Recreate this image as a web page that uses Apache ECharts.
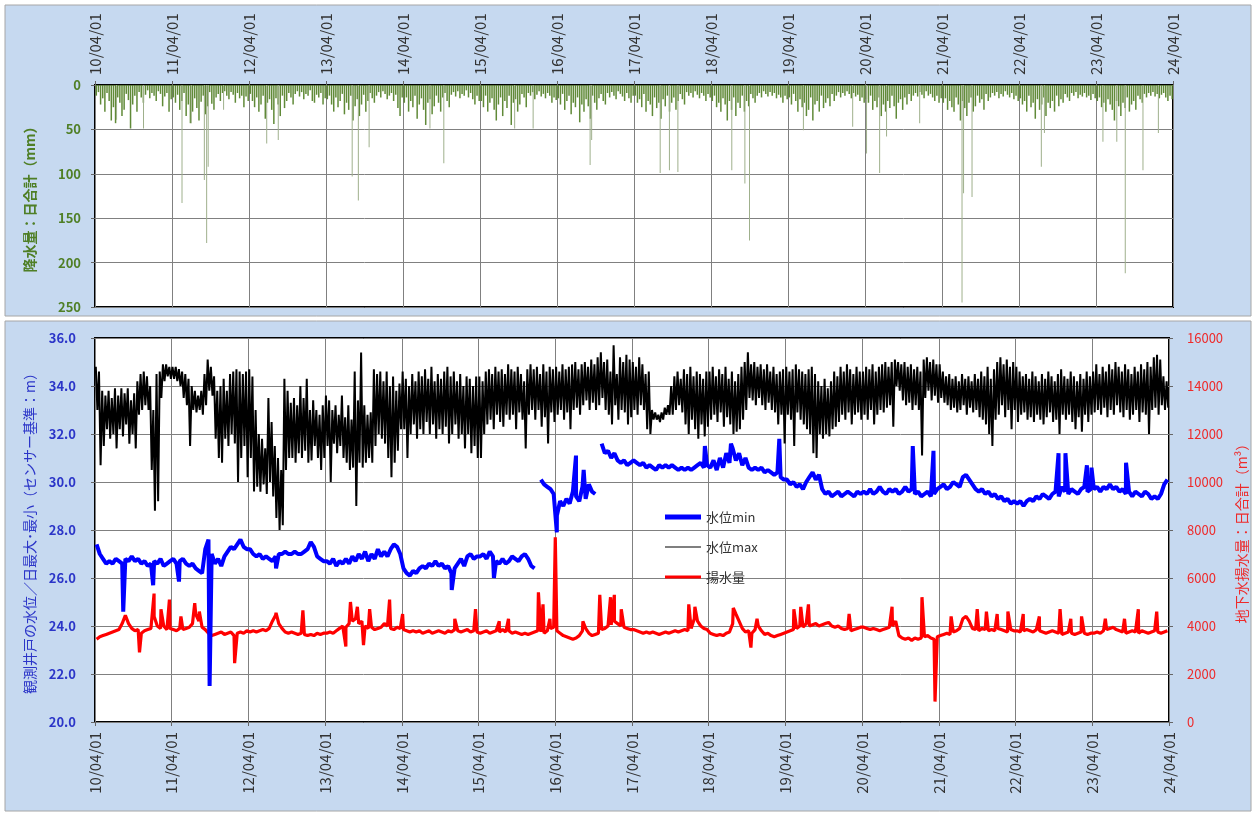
<!DOCTYPE html>
<html>
<head>
<meta charset="utf-8">
<script src="https://cdn.jsdelivr.net/npm/echarts@6/dist/echarts.min.js"></script>
<style>
  html, body { margin: 0; background: #fff; }
  #main { width: 1257px; height: 816px; }
</style>
</head>
<body>
<div id="main"></div>
<script>
// x = years since 2010-04-01 (0..14), one tick per year
const tickLabels = ['10/04/01','11/04/01','12/04/01','13/04/01','14/04/01','15/04/01','16/04/01',
  '17/04/01','18/04/01','19/04/01','20/04/01','21/04/01','22/04/01','23/04/01','24/04/01'];

// rainfall, max daily total per ~10 day bin (36 bins / year), mm
const rainfall = [
  12,8,22,15,30,9,18,40,25,43,14,20, 35,28,10,17,49,22,12,30,8,14,20,11, 6,15,9,12,18,7,10,24,13,9,30,16,
  14,20,11,28,18,9,35,22,43,30,15,26, 40,19,12,33,24,8,21,28,14,10,18,9, 7,12,16,8,11,20,9,15,12,25,13,18,
  10,18,25,14,30,22,12,38,20,16,28,44, 15,22,35,12,26,18,9,14,22,10,7,13, 8,16,10,12,6,18,20,11,14,9,22,15,
  16,12,22,30,14,25,18,10,33,20,28,12, 40,24,16,35,22,11,30,18,9,15,20,12, 8,14,7,10,16,12,9,18,11,26,35,14,
  20,14,30,18,25,12,38,22,15,28,45,20, 16,33,24,12,20,30,14,9,18,25,11,8, 13,7,15,10,12,6,14,9,16,22,12,18,
  18,25,12,30,20,15,28,40,22,14,35,18, 26,12,45,20,16,30,22,10,14,25,9,12, 8,16,11,7,13,10,15,9,12,20,14,17,
  15,22,10,28,18,12,33,20,25,14,42,22, 30,16,24,38,12,20,28,15,10,18,22,9, 14,8,12,16,7,10,13,18,9,15,20,12,
  12,20,16,25,10,30,18,22,35,14,26,20, 38,16,24,12,30,20,14,28,18,10,16,22, 8,12,9,14,7,11,15,9,12,18,10,14,
  18,12,25,20,30,15,22,40,18,28,14,35, 20,26,12,30,18,24,10,15,20,12,9,14, 7,10,13,8,12,9,15,11,14,20,12,16,
  14,22,10,18,30,16,25,20,35,28,14,40, 22,18,30,12,26,20,15,24,10,18,12,8, 14,9,12,7,10,15,9,13,11,18,14,20,
  16,20,12,28,18,25,14,35,22,30,18,26, 12,24,38,20,16,28,14,22,10,18,12,9, 13,8,11,15,7,12,10,14,18,12,20,15,
  20,15,28,18,25,30,14,22,40,18,26,35, 20,14,30,24,12,20,16,28,10,18,14,9, 12,8,15,10,13,7,11,14,9,16,12,18,
  15,22,18,30,12,25,20,38,16,28,22,14, 35,20,26,18,30,12,24,16,20,10,14,18, 9,12,8,15,11,13,9,14,12,17,10,15,
  18,14,25,20,30,16,22,28,40,18,24,35, 20,26,14,30,22,18,28,12,16,20,10,14, 9,12,8,13,10,15,11,9,14,18,12,16
];
// single heavy rain days [year offset, mm]
const rainPeaks = [
  [0.28,39],[0.63,49],[1.13,133],[1.25,43],[1.42,107],[1.45,178],[1.47,92],[1.67,28],[2.23,66],[2.38,62],
  [3.34,103],[3.42,130],[3.56,70],[4.35,49],[4.53,88],[5.45,49],[5.69,49],[6.43,90],[6.45,62],[7.34,99],
  [7.46,96],[7.57,98],[8.27,96],[8.44,111],[8.50,175],[9.2,51],[9.84,47],[10.02,77],[10.19,99],[10.28,58],
  [10.71,43],[11.26,245],[11.28,122],[11.39,126],[12.29,92],[12.33,54],[13.09,64],[13.27,64],[13.38,212],
  [13.61,96],[13.81,54]
];

// daily max water level: upper / lower edge per half-month bin (24 bins / year), m
const wlMaxHi = [
  34.8,34.6,33.8,33.6,33.8,33.5,33.9,33.6,33.9,33.7,33.9,33.4, 33.7,34.2,34.5,34.6,34.4,34.0,33.0,34.5,34.6,34.9,34.9,34.8,
  34.8,34.8,34.7,34.6,34.5,34.3,34.0,33.8,33.6,33.8,34.5,35.1, 34.8,34.4,33.8,34.0,34.3,33.8,34.5,34.6,34.7,34.6,34.5,34.6,
  34.7,34.4,33.0,32.0,31.8,31.4,33.5,32.5,31.5,31.0,30.5,34.3, 33.8,33.3,33.5,33.2,34.0,33.5,34.3,33.0,33.4,33.0,32.8,33.2,
  33.6,33.4,33.0,33.2,32.8,33.6,32.7,33.2,32.6,34.6,33.4,35.4, 33.2,32.8,32.9,34.7,34.5,34.6,34.2,34.6,34.0,34.4,33.8,34.1,
  34.6,34.3,34.0,34.5,34.2,34.6,34.4,34.7,34.3,34.8,34.2,34.5, 34.3,34.6,34.8,34.4,34.6,34.2,34.5,34.0,34.4,34.3,34.0,34.4,
  34.4,34.2,34.6,34.7,34.5,34.8,34.6,34.7,34.5,34.9,34.7,34.6, 34.8,34.5,34.2,34.7,34.9,34.7,34.8,34.5,34.9,34.6,34.8,34.7,
  34.8,34.6,34.9,34.7,34.8,34.9,35.0,34.7,34.9,35.0,34.8,35.1, 34.9,35.2,35.4,35.0,35.1,34.6,35.7,34.5,35.2,35.0,35.3,35.1,
  35.0,34.8,35.2,34.9,34.5,34.6,33.0,32.9,32.8,32.9,33.1,33.2, 34.0,34.4,34.6,34.3,34.7,34.5,34.8,34.4,34.6,34.5,34.3,34.6,
  34.6,34.8,34.4,34.7,34.5,34.8,34.3,34.6,34.2,34.5,34.8,35.0, 35.4,34.9,35.0,34.8,34.9,34.7,34.9,34.6,34.8,34.5,34.6,34.7,
  34.8,34.6,34.7,34.9,34.7,34.6,34.5,34.7,34.8,34.5,34.2,34.0, 34.3,33.9,34.2,34.6,34.4,34.8,34.6,34.9,34.7,34.5,34.8,34.6,
  34.6,34.8,34.7,34.9,34.6,34.8,34.9,35.0,34.8,35.0,35.1,35.0, 34.9,35.0,34.8,34.9,34.7,34.8,34.6,35.1,35.2,35.0,35.1,34.9,
  34.9,34.6,34.4,34.5,34.3,34.4,34.2,34.5,34.3,34.4,34.2,34.5, 34.3,34.6,34.4,34.8,34.3,34.7,35.0,35.2,34.9,35.1,34.8,35.0,
  34.8,34.6,34.4,34.5,34.3,34.6,34.4,34.2,34.5,34.3,34.6,34.4, 34.2,34.5,34.7,34.4,34.3,34.6,34.4,34.2,34.5,34.3,34.6,34.4,
  34.6,34.9,34.5,34.8,34.6,34.9,34.7,35.0,34.8,34.6,34.9,34.7, 34.5,34.8,34.6,34.9,34.7,35.0,34.8,35.2,35.3,35.1,34.4,34.2
];
const wlMaxLo = [
  33.0,30.7,31.5,32.2,31.8,32.0,31.4,32.2,31.9,32.4,31.6,32.0, 31.4,32.8,33.0,33.2,33.0,30.5,28.8,29.2,33.5,34.2,34.4,34.3,
  34.3,34.2,34.0,33.5,33.2,31.5,33.0,32.9,33.0,32.8,33.2,33.8, 33.6,31.8,31.0,30.8,31.8,31.5,32.0,31.6,30.0,31.0,31.5,30.2,
  31.0,29.6,29.8,29.6,29.9,29.5,30.0,29.4,28.5,28.0,28.2,30.5, 31.0,31.0,30.8,31.2,31.0,31.3,30.8,30.9,31.5,31.0,30.5,31.0,
  31.5,30.0,31.6,31.2,31.5,31.0,30.8,30.5,30.6,29.0,30.8,30.6, 30.8,31.0,30.8,31.5,32.0,31.8,31.6,31.0,30.2,30.8,31.3,32.2,
  32.2,31.0,32.0,32.4,31.8,32.2,32.0,32.5,32.0,32.4,31.8,32.2, 32.0,32.3,31.6,32.0,32.4,31.8,32.0,31.4,32.0,31.2,31.5,31.0,
  31.0,32.0,32.4,32.6,32.2,32.8,32.5,32.3,32.8,32.6,32.8,32.2, 32.9,32.6,31.4,32.8,33.0,32.6,33.0,32.3,32.7,31.6,32.9,32.5,
  32.8,33.0,32.6,32.9,32.2,33.0,33.1,32.8,33.2,33.4,33.0,33.3, 33.0,33.2,33.5,33.0,32.8,32.4,33.2,32.6,33.0,32.9,32.4,32.7,
  33.0,32.8,33.2,33.0,32.2,32.0,32.6,32.6,32.5,32.6,32.8,32.8, 32.8,33.0,33.2,32.9,32.4,32.0,32.6,32.2,31.8,32.4,31.9,32.3,
  32.6,32.8,32.5,32.9,32.3,32.7,32.4,32.0,32.1,32.2,32.6,33.0, 33.5,33.4,33.2,33.5,33.2,33.0,33.3,33.0,32.9,32.4,32.8,31.6,
  32.8,32.6,31.5,32.9,32.6,32.4,32.2,32.0,31.2,31.0,32.0,31.8, 32.0,31.9,32.2,32.3,32.5,32.8,32.6,32.9,32.4,32.8,32.9,32.6,
  32.8,32.6,33.0,32.4,32.8,33.0,32.9,33.1,33.2,32.3,34.0,33.8, 33.4,33.2,33.3,33.0,33.2,33.0,31.1,33.5,33.8,33.4,33.6,33.3,
  33.5,33.3,33.2,33.0,33.1,32.9,33.0,33.2,32.8,33.1,32.9,33.0, 32.7,32.6,32.4,32.0,31.5,32.6,32.8,33.2,32.7,33.0,32.2,33.0,
  32.5,32.8,32.9,32.6,32.7,32.5,32.8,32.6,32.4,32.7,32.9,32.5, 32.6,32.0,32.8,32.6,32.8,32.5,32.2,32.7,32.1,32.8,32.5,32.8,
  32.9,33.0,32.8,33.1,32.7,33.0,32.8,33.2,32.9,32.7,33.0,32.6, 32.8,33.0,32.5,32.9,32.8,32.0,33.0,33.1,32.8,33.2,33.0,33.1
];

// daily min water level per half-month bin, m (null = no record)
const wlMin = [
  27.4,27.0,26.8,26.6,26.7,26.6,26.8,26.7,26.6,26.8,26.7,26.9, 26.7,26.8,26.6,26.7,26.5,26.6,26.7,26.6,26.8,26.5,26.6,26.7,
  26.8,26.6,26.7,26.8,26.6,26.5,26.6,26.4,26.3,26.2,27.2,27.6, 27.0,26.6,26.8,26.5,26.9,27.1,27.3,27.2,27.4,27.6,27.3,27.2,
  27.2,27.0,26.9,27.0,26.8,26.9,26.8,26.7,26.9,27.0,27.0,27.1, 27.0,27.0,27.1,27.0,27.0,27.1,27.2,27.5,27.3,26.9,26.8,26.7,
  26.7,26.6,26.8,26.5,26.7,26.6,26.8,26.6,26.9,26.7,27.0,26.8, 27.1,26.7,27.0,26.8,27.2,26.9,27.1,26.9,27.2,27.4,27.3,27.0,
  26.4,26.2,26.1,26.3,26.2,26.4,26.5,26.4,26.6,26.5,26.7,26.5, 26.6,26.4,26.5,26.2,26.4,26.6,26.8,26.5,26.9,27.0,26.8,26.9,
  26.9,27.0,26.8,27.1,26.9,26.7,26.6,26.8,26.6,26.7,26.9,26.8, 26.7,26.9,27.0,26.8,26.5,26.4,null,30.1,29.9,29.8,29.7,29.5,
  28.6,29.2,29.0,29.3,29.1,29.6,29.4,29.2,29.8,29.3,29.9,29.6, 29.5,null,31.6,31.2,31.3,31.0,31.2,30.9,30.8,30.9,30.7,30.8,
  30.9,30.8,30.7,30.8,30.6,30.7,30.6,30.5,30.7,30.6,30.7,30.6, 30.7,30.6,30.5,30.6,30.5,30.6,30.5,30.6,30.7,30.8,30.6,30.7,
  30.6,30.9,30.5,31.0,30.6,31.2,30.8,31.4,30.9,31.2,30.7,31.0, 30.6,30.5,30.6,30.5,30.6,30.4,30.5,30.4,30.3,30.4,30.2,30.1,
  30.1,29.9,30.0,29.8,29.9,29.7,30.0,30.2,30.4,30.1,30.3,29.7, 29.5,29.6,29.4,29.5,29.6,29.4,29.5,29.6,29.5,29.4,29.6,29.5,
  29.6,29.5,29.7,29.5,29.6,29.8,29.6,29.5,29.7,29.6,29.7,29.5, 29.6,29.8,29.6,29.7,29.5,29.6,29.4,29.5,29.6,29.4,29.5,29.7,
  29.8,29.9,29.7,29.8,30.0,29.9,29.8,30.2,30.3,30.1,29.9,29.7, 29.6,29.7,29.5,29.6,29.4,29.5,29.3,29.4,29.2,29.3,29.1,29.2,
  29.1,29.2,29.0,29.2,29.3,29.2,29.4,29.3,29.5,29.4,29.3,29.5, 29.6,29.4,29.8,29.6,29.5,29.7,29.6,29.5,29.7,29.8,29.6,29.7,
  29.7,29.8,29.6,29.8,29.7,29.9,29.7,29.8,29.6,29.7,29.5,29.6, 29.4,29.6,29.5,29.4,29.6,29.5,29.3,29.4,29.3,29.5,29.9,30.1
];
const wlMinSpikes = [
  [0.368,24.6],[0.758,25.7],[1.095,25.85],[1.494,21.5],[2.36,26.4],[4.65,25.5],[5.2,26.0],
  [6.02,27.9],[6.27,31.1],[6.37,30.5],[7.95,31.5],[8.29,31.6],[8.92,31.8],[10.66,31.5],[10.93,31.3],
  [12.56,31.2],[12.65,31.2],[12.93,30.7],[12.99,30.6],[13.44,30.8]
];

// groundwater pumping, daily total per half-month bin, m3
const pumping = [
  3450,3550,3600,3650,3700,3750,3800,3850,4100,4450,4100,3900, 3800,3850,3700,3800,3850,3900,4400,4000,3900,4000,3850,3900,
  3850,3800,3900,3850,3900,3950,4100,4500,4200,3950,3850,3700, 3600,3650,3700,3750,3650,3700,3750,3600,3700,3750,3700,3800,
  3750,3800,3750,3800,3850,3800,3900,4200,4450,4100,3900,3750, 3700,3750,3700,3650,3700,3650,3600,3650,3600,3700,3650,3700,
  3700,3750,3700,3800,3900,4000,3950,4100,4200,4300,4100,4200, 4000,3900,3950,3850,3900,3950,4100,4000,3900,3850,3950,3900,
  3850,3800,3750,3800,3750,3800,3700,3750,3800,3700,3750,3800, 3750,3700,3800,3750,3850,3800,3750,3800,3850,3750,3800,3750,
  3700,3750,3800,3700,3750,3800,3750,3850,3750,3800,3700,3750, 3700,3650,3700,3650,3700,3750,3800,3750,3700,3800,3900,3950,
  3800,3700,3600,3550,3500,3450,3500,3600,3800,3900,3700,3600, 3650,3700,3850,3900,4000,4050,4200,4100,4000,3950,3900,3850,
  3850,3800,3750,3700,3750,3700,3750,3700,3650,3700,3750,3700, 3750,3800,3750,3800,3850,3800,3900,4300,4200,4000,3900,3850,
  3700,3650,3600,3650,3600,3700,3750,4100,4500,4200,3900,3750, 3800,3700,3850,4000,3800,3650,3700,3600,3550,3600,3650,3700,
  3750,3800,3850,3900,4000,3950,4100,4000,4050,4100,4000,4050, 4100,4150,4000,3950,4000,3900,3850,3900,3800,3850,3900,3950,
  3950,3900,3850,3900,3850,3800,3850,3900,3950,4000,4200,3600, 3500,3450,3500,3400,3500,3450,3500,3550,3600,3500,3450,3550,
  3600,3650,3700,3650,3750,3800,3900,4300,4400,4200,3900,3850, 3800,3900,3850,3800,3850,3800,3900,3850,3800,3750,3850,3800,
  3800,3750,3800,3850,3800,3750,3850,3800,3750,3700,3750,3800, 3750,3700,3650,3700,3750,3700,3650,3700,3750,3700,3650,3700,
  3700,3750,3700,3800,3850,3900,3950,3850,3800,3750,3700,3750, 3800,3750,3700,3800,3750,3700,3750,3800,3750,3700,3750,3800
];
const pumpingSpikes = [
  [0.58,2900],[0.77,5350],[0.86,4700],[0.97,5100],[1.12,4400],[1.30,4950],[1.36,4600],[1.82,2450],
  [2.36,4550],[2.71,4650],[3.27,3150],[3.33,5000],[3.42,4800],[3.50,3200],[3.58,4700],[3.84,5100],
  [4.01,4500],[4.69,4300],[4.96,4700],[5.27,4200],[5.39,4300],[5.78,5400],[5.84,4900],[5.93,4300],
  [6.0,7700],[6.36,4200],[6.58,5300],[6.72,5200],[6.77,5300],[6.86,4700],[7.74,4900],[7.82,4800],
  [8.32,4750],[8.55,3100],[8.63,4300],[9.11,4700],[9.2,4800],[9.3,4900],[9.83,4500],[10.39,4800],
  [10.78,5200],[10.95,850],[11.16,4400],[11.5,4700],[11.62,4600],[11.76,4500],[11.9,4600],[12.1,4500],
  [12.31,4400],[12.58,4700],[12.72,4300],[12.86,4400],[13.17,4300],[13.42,4300],[13.6,4700],[13.84,4600]
];

function binned(values, perYear, offset) {
  return values.map((v, i) => [Math.floor(i / perYear) + ((i % perYear) + offset) / perYear, v]);
}
function withSpikes(base, spikes) {
  return base.concat(spikes).sort((a, b) => a[0] - b[0]);
}

var hiPts = binned(wlMaxHi, 24, 0.25);
var loPts = binned(wlMaxLo, 24, 0.75);
var maxData = [];
hiPts.forEach((p, i) => { maxData.push(p, loPts[i]); });
var minData = withSpikes(binned(wlMin, 24, 0.5), wlMinSpikes);
var pumpData = withSpikes(binned(pumping, 24, 0.5), pumpingSpikes);
var rainData = binned(rainfall, 36, 0.5);

var FONT = '"Noto Sans CJK JP", "Noto Sans", sans-serif';
var GREEN = '#4f7f26', BLUE = '#2b35c8', RED = '#ee2a2a';

// legend line icons: a bar of given thickness inside a 36x14 box
function lineIcon(h) {
  var y0 = 7 - h / 2, y1 = 7 + h / 2;
  return 'path://M0,0L0.01,0L0,0.01Z M0,' + y0 + 'L36,' + y0 + 'L36,' + y1 + 'L0,' + y1 + 'Z M36,14L35.99,14L36,13.99Z';
}

var chart = echarts.init(document.getElementById('main'));

function dateAxis(grid, pos) {
  return {
    type: 'value', gridIndex: grid, position: pos, min: 0, max: 14, interval: 1,
    axisLine: { show: false },
    axisTick: { show: true, length: 4, lineStyle: { color: '#666' } },
    axisLabel: {
      rotate: 90, margin: 10, color: '#333', fontSize: 15, fontFamily: FONT,
      showMaxLabel: true, formatter: v => tickLabels[Math.round(v)]
    },
    splitLine: { show: true, lineStyle: { color: '#808080', width: 1 } }
  };
}

var option = {
  animation: false,
  backgroundColor: '#fff',
  textStyle: { fontFamily: FONT },
  graphic: [
    { type: 'rect', z: -100, silent: true, shape: { x: 5, y: 5, width: 1246, height: 311 },
      style: { fill: '#c6d9f0', stroke: '#a6a6a6', lineWidth: 1 } },
    { type: 'rect', z: -100, silent: true, shape: { x: 5, y: 321, width: 1246, height: 490 },
      style: { fill: '#c6d9f0', stroke: '#a6a6a6', lineWidth: 1 } }
  ],
  grid: [
    { left: 95, top: 85, width: 1078, height: 222, show: true, backgroundColor: '#fff',
      borderColor: '#000', borderWidth: 2 },
    { left: 95, top: 338, width: 1078, height: 384, show: true, backgroundColor: '#fff',
      borderColor: '#000', borderWidth: 2 }
  ],
  legend: {
    orient: 'vertical', left: 660, top: 505, itemWidth: 36, itemHeight: 14, itemGap: 16,
    textStyle: { fontSize: 13, color: '#333', fontFamily: FONT },
    data: [
      { name: '水位min', icon: lineIcon(5) },
      { name: '水位max', icon: lineIcon(1.2) },
      { name: '揚水量', icon: lineIcon(3) }
    ]
  },
  xAxis: [dateAxis(0, 'top'), dateAxis(1, 'bottom')],
  yAxis: [
    {
      type: 'value', gridIndex: 0, min: 0, max: 250, interval: 50, inverse: true,
      name: '降水量：日合計（mm）', nameLocation: 'middle', nameGap: 58, nameRotate: 90,
      nameTextStyle: { color: GREEN, fontSize: 14, fontWeight: 'bold', fontFamily: FONT },
      axisLine: { show: false },
      axisTick: { show: true, length: 4, lineStyle: { color: '#666' } },
      axisLabel: { color: GREEN, fontSize: 13, fontWeight: 'bold', margin: 14, fontFamily: FONT },
      splitLine: { show: true, lineStyle: { color: '#808080' } }
    },
    {
      type: 'value', gridIndex: 1, min: 20, max: 36, interval: 2,
      name: '観測井戸の水位／日最大･最小（センサー基準：m）', nameLocation: 'middle', nameGap: 58, nameRotate: 90,
      nameTextStyle: { color: BLUE, fontSize: 14, fontFamily: FONT },
      axisLine: { show: false },
      axisTick: { show: true, length: 4, lineStyle: { color: '#666' } },
      axisLabel: { color: BLUE, fontSize: 13, fontWeight: 'bold', margin: 19, fontFamily: FONT,
        formatter: v => v.toFixed(1) },
      splitLine: { show: true, lineStyle: { color: '#808080' } }
    },
    {
      type: 'value', gridIndex: 1, min: 0, max: 16000, interval: 2000, position: 'right',
      name: '地下水揚水量：日合計（m³）', nameLocation: 'middle', nameGap: 66, nameRotate: 90,
      nameTextStyle: { color: RED, fontSize: 14, fontFamily: FONT },
      axisLine: { show: false },
      axisTick: { show: true, length: 4, lineStyle: { color: '#666' } },
      axisLabel: { color: RED, fontSize: 13, margin: 18, fontFamily: FONT, formatter: v => String(v) },
      splitLine: { show: false }
    }
  ],
  series: [
    {
      name: '降水量', type: 'bar', xAxisIndex: 0, yAxisIndex: 0, barWidth: 1.5, barGap: '-100%',
      itemStyle: { color: '#4f7d22', opacity: 0.9 }, silent: true, data: rainData
    },
    {
      name: '降水量peak', type: 'bar', xAxisIndex: 0, yAxisIndex: 0, barWidth: 1, barGap: '-100%',
      itemStyle: { color: '#9fb08c' }, silent: true, data: rainPeaks
    },
    {
      name: '水位max', type: 'line', xAxisIndex: 1, yAxisIndex: 1, symbol: 'none', z: 2,
      lineStyle: { color: '#000', width: 2 }, itemStyle: { color: '#000' }, data: maxData
    },
    {
      name: '揚水量', type: 'line', xAxisIndex: 1, yAxisIndex: 2, symbol: 'none', z: 3,
      lineStyle: { color: '#ff0000', width: 3.2 }, itemStyle: { color: '#ff0000' }, data: pumpData
    },
    {
      name: '水位min', type: 'line', xAxisIndex: 1, yAxisIndex: 1, symbol: 'none', z: 4,
      connectNulls: false,
      lineStyle: { color: '#0000ff', width: 4 }, itemStyle: { color: '#0000ff' }, data: minData
    }
  ]
};
chart.setOption(option);
</script>
</body>
</html>
